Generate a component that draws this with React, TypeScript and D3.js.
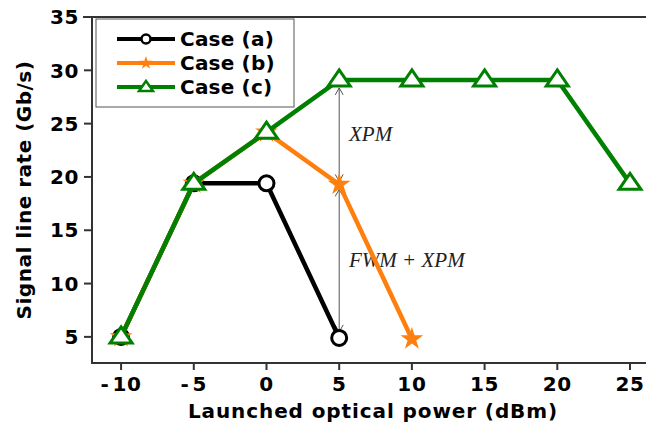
import React from 'react';
import * as d3 from 'd3';

// launched power values (dBm) and line rates (Gb/s)
const powers = [-10, -5, 0, 5, 10, 15, 20, 25];
const caseA = [5, 19.4, 19.4, 4.9];
const caseB = [5, 19.4, 24.2, 19.3, 4.8];
const caseC = [5, 19.4, 24.2, 29.1, 29.1, 29.1, 29.1, 19.4];
const xTicks = [-10, -5, 0, 5, 10, 15, 20, 25];
const yTicks = [5, 10, 15, 20, 25, 30, 35];
const legendLabels = ['Case (a)', 'Case (b)', 'Case (c)'];

const W = 646;
const H = 423;

export default function App() {
  const x = d3.scaleLinear().domain([-12, 25]).range([92, 630]);
  const y = d3.scaleLinear().domain([2.55, 35]).range([363, 17]);

  const line = d3
    .line<number>()
    .x((_, i) => x(powers[i]))
    .y((d) => y(d));

  const star = d3.symbol(d3.symbolStar, 160)() as string;
  const tri = (cx: number, cy: number) =>
    `M${cx},${cy - 10}L${cx + 11},${cy + 6}L${cx - 11},${cy + 6}Z`;

  const fontBold = '"DejaVu Sans", Verdana, sans-serif';
  const ax = x(5);
  const chevron = (yy: number, dir: number) =>
    `M${ax - 4},${yy + dir * 7}L${ax},${yy}L${ax + 4},${yy + dir * 7}`;

  const arrows = [
    [y(29.1) + 8, y(19.3) - 3],
    [y(19.3) + 5, y(4.9) - 6],
  ];

  const legendRows = [
    { color: '#000000', kind: 'circle' },
    { color: '#ff7f0e', kind: 'star' },
    { color: '#008000', kind: 'tri' },
  ];

  return (
    <svg
      width={W}
      height={H}
      style={{ position: 'absolute', left: 0, top: 0, background: '#fff' }}
      fontFamily={fontBold}
    >
      {/* spines */}
      <line x1={83} x2={W} y1={y(35)} y2={y(35)} stroke="#333" strokeWidth={2} />
      <line x1={x(-12)} x2={x(-12)} y1={y(35)} y2={364} stroke="#333" strokeWidth={2} />
      <line x1={x(-12) - 1} x2={W} y1={363} y2={363} stroke="#333" strokeWidth={2} />

      {/* y ticks */}
      {yTicks.map((t) => (
        <g key={t}>
          <line x1={x(-12) - 8} x2={x(-12)} y1={y(t)} y2={y(t)} stroke="#333" strokeWidth={2} />
          <text
            x={x(-12) - 13}
            y={y(t)}
            dy="0.36em"
            textAnchor="end"
            fontSize={20}
            fontWeight="bold"
            letterSpacing={0.6}
          >
            {t}
          </text>
        </g>
      ))}

      {/* x ticks */}
      {xTicks.map((t) => (
        <g key={t}>
          <line x1={x(t)} x2={x(t)} y1={363} y2={370} stroke="#333" strokeWidth={2} />
          <text x={x(t)} y={391} textAnchor="middle" fontSize={20} fontWeight="bold" letterSpacing={0.6}>
            {t < 0 ? (
              <>
                <tspan>-</tspan>
                <tspan dx={3}>{Math.abs(t)}</tspan>
              </>
            ) : (
              t
            )}
          </text>
        </g>
      ))}

      <text x={373} y={418} textAnchor="middle" fontSize={20} fontWeight="bold" letterSpacing={0.9}>
        Launched optical power (dBm)
      </text>
      <text
        transform={`translate(31,190) rotate(-90)`}
        textAnchor="middle"
        fontSize={20}
        fontWeight="bold"
        letterSpacing={0.5}
      >
        Signal line rate (Gb/s)
      </text>

      {/* annotation arrows */}
      {arrows.map(([a, b], i) => (
        <g key={i} stroke="#555" strokeWidth={1} fill="none">
          <line x1={ax} x2={ax} y1={a} y2={b} />
          <path d={chevron(a, 1)} />
          <path d={chevron(b, -1)} />
        </g>
      ))}
      <text x={349} y={141} fontFamily='"Liberation Serif", serif' fontStyle="italic" fontSize={21} fill="#222">
        XPM
      </text>
      <text x={349} y={267} fontFamily='"Liberation Serif", serif' fontStyle="italic" fontSize={21} fill="#222">
        FWM + XPM
      </text>

      {/* case (a) */}
      <path d={line(caseA) as string} fill="none" stroke="#000" strokeWidth={4.5} />
      {caseA.map((v, i) => (
        <circle key={i} cx={x(powers[i])} cy={y(v)} r={7.5} fill="#fff" stroke="#000" strokeWidth={3} />
      ))}

      {/* case (b) */}
      <path d={line(caseB) as string} fill="none" stroke="#ff7f0e" strokeWidth={4.5} />
      {caseB.map((v, i) => (
        <path key={i} d={star} transform={`translate(${x(powers[i])},${y(v)})`} fill="#ff7f0e" />
      ))}

      {/* case (c) */}
      <path d={line(caseC) as string} fill="none" stroke="#008000" strokeWidth={4.5} />
      {caseC.map((v, i) => (
        <path key={i} d={tri(x(powers[i]), y(v))} fill="#fff" stroke="#008000" strokeWidth={3} strokeLinejoin="miter" />
      ))}

      {/* legend */}
      <rect x={96} y={19} width={198} height={88} fill="#fff" stroke="#555" strokeWidth={1} />
      {legendRows.map((r, i) => {
        const ly = 39 + i * 24;
        return (
          <g key={i}>
            <line x1={117} x2={175} y1={ly} y2={ly} stroke={r.color} strokeWidth={4} />
            {r.kind === 'circle' && (
              <circle cx={146} cy={ly} r={4.5} fill="#fff" stroke={r.color} strokeWidth={2.5} />
            )}
            {r.kind === 'star' && (
              <path d={d3.symbol(d3.symbolStar, 55)() as string} transform={`translate(146,${ly})`} fill={r.color} />
            )}
            {r.kind === 'tri' && (
              <path d={`M146,${ly - 6}L153,${ly + 4}L139,${ly + 4}Z`} fill="#fff" stroke={r.color} strokeWidth={2.5} />
            )}
            <text x={180} y={ly} dy="0.36em" fontSize={20} fontWeight="bold" letterSpacing={0.2}>
              {legendLabels[i]}
            </text>
          </g>
        );
      })}
    </svg>
  );
}
